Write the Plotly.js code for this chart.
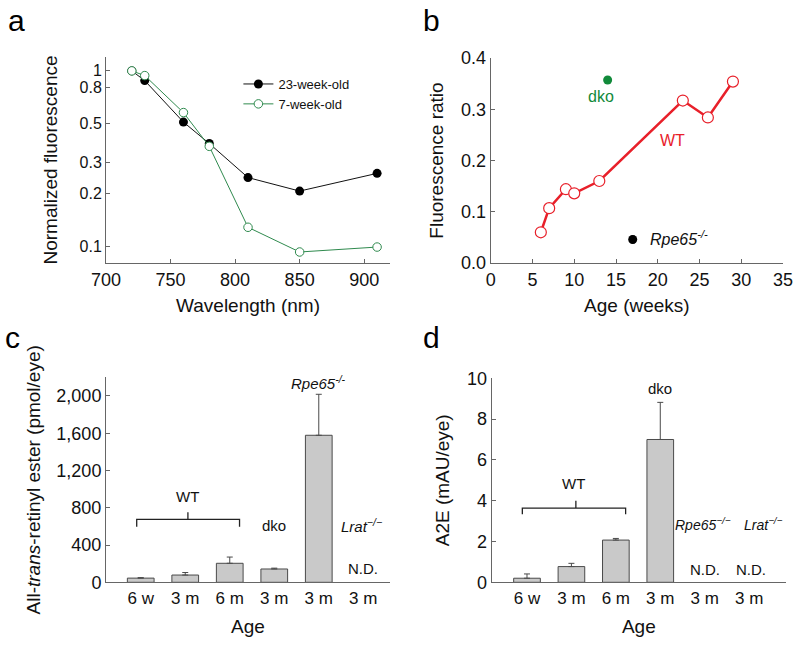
<!DOCTYPE html>
<html>
<head>
<meta charset="utf-8">
<script src="https://cdn.plot.ly/plotly-3.0.1.min.js"></script>
<style>html,body{margin:0;padding:0;background:#fff;}#chart{width:800px;height:645px;}</style>
</head>
<body>
<div id="chart"></div>
<script>
// Panel a: normalized fluorescence vs wavelength
const wavelength = [720, 730, 760, 780, 810, 850, 910];
const fluor23wk = [1.0, 0.88, 0.51, 0.385, 0.246, 0.206, 0.26];
const fluor7wk = [1.0, 0.94, 0.578, 0.371, 0.128, 0.0925, 0.0987];

// Panel b: fluorescence ratio vs age
const ageWT = [6, 7, 9, 10, 13, 23, 26, 29];
const ratioWT = [0.060, 0.107, 0.144, 0.136, 0.160, 0.317, 0.284, 0.354];
const ageDko = [14];
const ratioDko = [0.357];
const ageRpe65 = [17];
const ratioRpe65 = [0.046];
const errRpe65 = [0.007];

// Panels c, d: bar charts
const barLabels = ["6 w", "3 m", "6 m", "3 m", "3 m", "3 m"];
const esterVals = [45, 78, 204, 143, 1578, null];
const esterErr = [5, 27, 67, 9, 440, 0];
const a2eVals = [0.2, 0.77, 2.07, 7.0, null, null];
const a2eErr = [0.21, 0.16, 0.08, 1.82, 0, 0];

const barX = barLabels.map((_, i) => i);
const FONT = "Liberation Sans, Arial, sans-serif";
const TXT = "#111";
const AX = "#666";
const GREEN = "#2f8a4e";
const RED = "#e8202a";

const traces = [
  {x: wavelength, y: fluor23wk, xaxis: "x", yaxis: "y", name: "23-week-old", mode: "lines+markers",
   line: {color: "#111", width: 1}, marker: {color: "#000", size: 9, symbol: "circle"}},
  {x: wavelength, y: fluor7wk, xaxis: "x", yaxis: "y", name: "7-week-old", mode: "lines+markers",
   line: {color: GREEN, width: 1}, marker: {color: "#fff", size: 8.5, symbol: "circle", line: {color: GREEN, width: 1}}},
  {x: ageWT, y: ratioWT, xaxis: "x2", yaxis: "y2", name: "WT", mode: "lines+markers", showlegend: false,
   line: {color: RED, width: 2.5}, marker: {color: "#fff", size: 11, line: {color: RED, width: 1.2}}},
  {x: ageDko, y: ratioDko, xaxis: "x2", yaxis: "y2", name: "dko", mode: "markers", showlegend: false,
   marker: {color: "#118a3a", size: 9}},
  {x: ageRpe65, y: ratioRpe65, xaxis: "x2", yaxis: "y2", name: "Rpe65", mode: "markers", showlegend: false,
   marker: {color: "#000", size: 9},
   error_y: {type: "data", array: errRpe65, visible: true, color: "#555", thickness: 1, width: 2}},
  {x: barX, y: esterVals, xaxis: "x3", yaxis: "y3", type: "bar", width: 0.6, showlegend: false,
   marker: {color: "#c9c9c9", line: {color: "#4a4a4a", width: 1}},
   error_y: {type: "data", symmetric: false, array: esterErr, arrayminus: esterErr.map(() => 0),
             visible: true, color: "#4a4a4a", thickness: 1, width: 3}},
  {x: barX, y: a2eVals, xaxis: "x4", yaxis: "y4", type: "bar", width: 0.6, showlegend: false,
   marker: {color: "#c9c9c9", line: {color: "#4a4a4a", width: 1}},
   error_y: {type: "data", symmetric: false, array: a2eErr, arrayminus: a2eErr.map(() => 0),
             visible: true, color: "#4a4a4a", thickness: 1, width: 3}}
];

const axBase = {showline: true, linecolor: AX, linewidth: 1, ticks: "inside", ticklen: 4, tickcolor: AX,
  showgrid: false, zeroline: false, tickfont: {family: FONT, size: 18, color: TXT}};
const titleFont = {family: FONT, size: 19, color: TXT};

function ann(text, x, y, xref, yref, size, color, extra) {
  return Object.assign({text: text, x: x, y: y, xref: xref, yref: yref, showarrow: false,
    font: {family: FONT, size: size, color: color || TXT}}, extra || {});
}

function bracket(xr, yr, x0, x1, xm, yEnd, yBar, yTip) {
  const path = `M ${x0} ${yEnd} L ${x0} ${yBar} L ${xm} ${yBar} L ${xm} ${yTip} M ${xm} ${yBar} L ${x1} ${yBar} L ${x1} ${yEnd}`;
  return {type: "path", xref: xr, yref: yr, path: path, line: {color: "#222", width: 1.3}};
}

const layout = {
  width: 800, height: 645,
  margin: {l: 0, r: 0, t: 0, b: 0},
  paper_bgcolor: "#fff", plot_bgcolor: "rgba(0,0,0,0)",
  font: {family: FONT, color: TXT},
  showlegend: true,
  legend: {x: 0.298, y: 0.893, xanchor: "left", yanchor: "top", bgcolor: "rgba(0,0,0,0)",
           font: {family: FONT, size: 13, color: TXT}, itemwidth: 30, tracegroupgap: 0},
  xaxis: Object.assign({}, axBase, {domain: [0.1325, 0.4875], anchor: "y", range: [700, 920],
    tickvals: [700, 750, 800, 850, 900], title: {text: "Wavelength (nm)", font: titleFont, standoff: 10}}),
  yaxis: Object.assign({}, axBase, {domain: [0.5922, 0.9116], anchor: "x", type: "log",
    range: [Math.log10(0.08), Math.log10(1.2)], tickvals: [0.1, 0.2, 0.3, 0.5, 0.8, 1],
    ticktext: ["0.1", "0.2", "0.3", "0.5", "0.8", "1"], tickfont: {family: FONT, size: 16, color: TXT},
    title: {text: "Normalized fluorescence", font: titleFont, standoff: 16}}),
  xaxis2: Object.assign({}, axBase, {domain: [0.6134, 0.9788], anchor: "y2", range: [0, 35], dtick: 5, tick0: 0,
    title: {text: "Age (weeks)", font: titleFont, standoff: 10}}),
  yaxis2: Object.assign({}, axBase, {domain: [0.5922, 0.9101], anchor: "x2", range: [0, 0.4], dtick: 0.1,
    tickformat: ".1f", title: {text: "Fluorescence ratio", font: titleFont, standoff: 12}}),
  xaxis3: Object.assign({}, axBase, {domain: [0.1325, 0.4875], anchor: "y3", range: [-0.78, 5.6],
    tickvals: barX, ticktext: barLabels, ticks: "", tickfont: {family: FONT, size: 17, color: TXT},
    title: {text: "Age", font: titleFont, standoff: 12}}),
  yaxis3: Object.assign({}, axBase, {domain: [0.0972, 0.415], anchor: "x3", range: [0, 2200],
    tickvals: [0, 400, 800, 1200, 1600, 2000], tickformat: ",",
    title: {text: "All-<i>trans</i>-retinyl ester (pmol/eye)", font: titleFont, standoff: 10}}),
  xaxis4: Object.assign({}, axBase, {domain: [0.6146, 0.9825], anchor: "y4", range: [-0.795, 5.83],
    tickvals: barX, ticktext: barLabels, ticks: "", tickfont: {family: FONT, size: 17, color: TXT},
    title: {text: "Age", font: titleFont, standoff: 12}}),
  yaxis4: Object.assign({}, axBase, {domain: [0.0972, 0.4135], anchor: "x4", range: [0, 10], dtick: 2,
    title: {text: "A2E (mAU/eye)", font: titleFont, standoff: 12}}),
  annotations: [
    ann("a", 0.008, 0.997, "paper", "paper", 30, "#000", {xanchor: "left", yanchor: "top"}),
    ann("b", 0.526, 0.997, "paper", "paper", 30, "#000", {xanchor: "left", yanchor: "top"}),
    ann("c", 0.004, 0.505, "paper", "paper", 30, "#000", {xanchor: "left", yanchor: "top"}),
    ann("d", 0.526, 0.505, "paper", "paper", 30, "#000", {xanchor: "left", yanchor: "top"}),
    // panel b labels
    ann("dko", 13.2, 0.325, "x2", "y2", 16, "#118a3a"),
    ann("WT", 21.8, 0.240, "x2", "y2", 16, RED),
    ann("<i>Rpe65<sup>-/-</sup></i>", 18.8, 0.048, "x2", "y2", 16, TXT, {xanchor: "left"}),
    // panel c labels
    ann("WT", 1.06, 925, "x3", "y3", 15),
    ann("dko", 3.0, 615, "x3", "y3", 15),
    ann("<i>Rpe65<sup>-/-</sup></i>", 4.0, 2140, "x3", "y3", 15),
    ann("<i>Lrat<sup>−/−</sup></i>", 4.95, 615, "x3", "y3", 15),
    ann("N.D.", 5.0, 150, "x3", "y3", 15),
    // panel d labels
    ann("WT", 1.05, 4.85, "x4", "y4", 15),
    ann("dko", 3.0, 9.5, "x4", "y4", 15),
    ann("<i>Rpe65<sup>−/−</sup></i>", 3.97, 2.85, "x4", "y4", 14),
    ann("<i>Lrat<sup>−/−</sup></i>", 5.33, 2.85, "x4", "y4", 14),
    ann("N.D.", 4.0, 0.65, "x4", "y4", 15),
    ann("N.D.", 5.05, 0.65, "x4", "y4", 15)
  ],
  shapes: [
    bracket("x3", "y3", -0.09, 2.22, 1.06, 597, 676, 751),
    bracket("x4", "y4", -0.105, 2.22, 1.1, 3.33, 3.64, 4.0)
  ]
};

Plotly.newPlot("chart", traces, layout, {staticPlot: true, displayModeBar: false});
</script>
</body>
</html>
